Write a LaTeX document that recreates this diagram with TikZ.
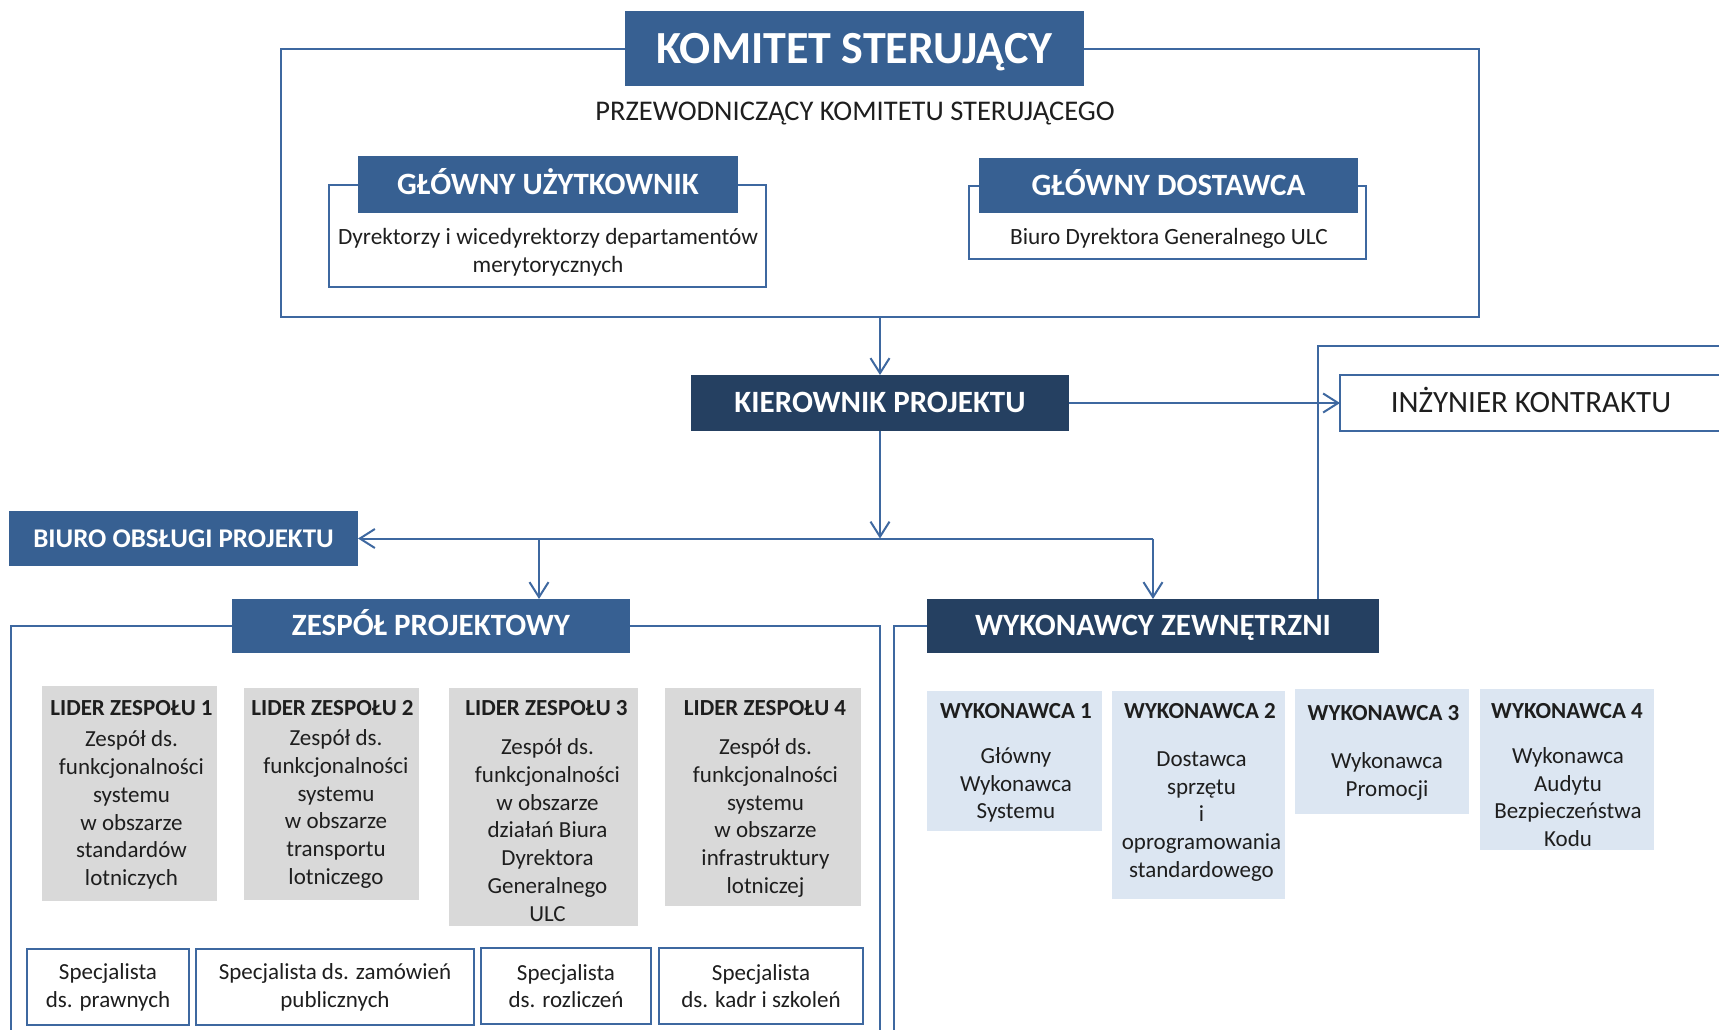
\documentclass[tikz,border=0pt]{standalone}
\usepackage{fontspec}
\setmainfont{Carlito}
\usetikzlibrary{arrows.meta}
\definecolor{midblue}{HTML}{376092}
\definecolor{navy}{HTML}{254061}
\definecolor{linecol}{HTML}{3E68A0}
\definecolor{grayfill}{HTML}{D9D9D9}
\definecolor{lightblue}{HTML}{DCE6F2}
\definecolor{txt}{HTML}{1E1E1E}
\begin{document}
\begin{tikzpicture}[x=1pt,y=-1pt,
 every node/.style={inner sep=0pt, outer sep=0pt},
 bluehdr/.style={fill=midblue, text=white, font=\bfseries\fontsize{31}{37}\selectfont, text height=19.8pt, text depth=0pt},
 navyhdr/.style={fill=navy, text=white, font=\bfseries\fontsize{31}{37}\selectfont, text height=19.8pt, text depth=0pt},
 frameline/.style={draw=linecol, line width=2pt},
 arr/.style={draw=linecol, line width=2pt, -{Straight Barb[length=15pt,width=19pt]}},
 whitebox/.style={draw=linecol, line width=2.5pt, fill=white},
 leaderbox/.style={fill=grayfill},
 wykbox/.style={fill=lightblue},
 smalltxt/.style={text=txt, font=\fontsize{23}{27.8}\selectfont, align=center},
 smallbold/.style={text=txt, font=\bfseries\fontsize{23}{27.8}\selectfont},
]
\useasboundingbox (0,0) rectangle (1719,1029);

% ---- steering committee ----
\node[bluehdr, font=\bfseries\fontsize{46}{55}\selectfont, text height=29.4pt, minimum width=459pt, minimum height=75pt] (kom) at (854.5,48.5) {KOMITET STERUJĄCY};
\node[text=txt, font=\fontsize{28.5}{34}\selectfont] (przew) at (855,114) {PRZEWODNICZĄCY KOMITETU STERUJĄCEGO};
\coordinate (kbot) at (880,317);
\draw[frameline] (kom.west) -- (281,48.5) -- (281,317) -- (1479,317) -- (1479,48.5) -- (kom.east);

\node[bluehdr, minimum width=380pt, minimum height=57pt] (gluh) at (548,184.5) {GŁÓWNY UŻYTKOWNIK};
\draw[frameline] (gluh.west) -- (329,184.5) -- (329,287) -- (766,287) -- (766,184.5) -- (gluh.east);
\node[smalltxt, font=\fontsize{23.3}{27.8}\selectfont] (glut) at (548,252) {Dyrektorzy i wicedyrektorzy departamentów\\merytorycznych};

\node[bluehdr, minimum width=379pt, minimum height=55pt] (gldh) at (1168.5,185.5) {GŁÓWNY DOSTAWCA};
\draw[frameline] (gldh.west) -- (969,185.5) -- (969,259) -- (1366,259) -- (1366,185.5) -- (gldh.east);
\node[smalltxt, font=\fontsize{23.3}{27.8}\selectfont] (gldt) at (1169,238) {Biuro Dyrektora Generalnego ULC};

% ---- project manager ----
\node[navyhdr, minimum width=378pt, minimum height=56pt] (kier) at (880,403) {KIEROWNIK PROJEKTU};
\node[whitebox, minimum width=382pt, minimum height=56pt, text=txt, font=\fontsize{31}{37}\selectfont, text height=19.8pt, text depth=0pt] (inz) at (1531,403) {INŻYNIER KONTRAKTU};
\draw[arr] (kbot) -- (kier.north);
\draw[arr] (kier.east) -- (inz.west);

\node[bluehdr, font=\bfseries\fontsize{27}{32}\selectfont, text height=17.3pt, minimum width=349pt, minimum height=55pt] (biuro) at (183.5,538.5) {BIURO OBSŁUGI PROJEKTU};
\node[bluehdr, minimum width=398pt, minimum height=54pt] (zp) at (431,626) {ZESPÓŁ PROJEKTOWY};
\node[navyhdr, minimum width=452pt, minimum height=54pt] (wz) at (1153,626) {WYKONAWCY ZEWNĘTRZNI};

\coordinate (j) at (880,538.5);
\coordinate (jl) at (539,538.5);
\coordinate (jr) at (1153,538.5);
\draw[arr] (kier.south) -- (j);
\draw[arr] (jr) -- (biuro.east);
\draw[arr] (jl) -- (jl |- zp.north);
\draw[arr] (jr) -- (wz.north);

\coordinate (wztop) at (1318,599);
\coordinate (inzline) at (1725,346);
\draw[frameline] (wztop) |- (inzline);

% frames of the lower groups
\draw[frameline] (zp.west) -- (11,626) -- (11,1040);
\draw[frameline] (zp.east) -- (880,626) -- (880,1040);
\draw[frameline] (wz.west) -- (894,626) -- (894,1040);

% ---- team leaders ----
\node[leaderbox, minimum width=175pt, minimum height=215pt] (l1) at (129.5,793.5) {};
\node[smallbold] (l1t) at (131.5,708) {LIDER ZESPOŁU 1};
\node[smalltxt] (l1b) at (131.5,810) {Zespół ds.\\funkcjonalności\\systemu\\w obszarze\\standardów\\lotniczych};

\node[leaderbox, minimum width=175pt, minimum height=212pt] (l2) at (331.5,794) {};
\node[smallbold] (l2t) at (332.5,708) {LIDER ZESPOŁU 2};
\node[smalltxt] (l2b) at (336,809) {Zespół ds.\\funkcjonalności\\systemu\\w obszarze\\transportu\\lotniczego};

\node[leaderbox, minimum width=189pt, minimum height=238pt] (l3) at (543.5,807) {};
\node[smallbold] (l3t) at (546.5,708) {LIDER ZESPOŁU 3};
\node[smalltxt] (l3b) at (547.5,830) {Zespół ds.\\funkcjonalności\\w obszarze\\działań Biura\\Dyrektora\\Generalnego\\ULC};

\node[leaderbox, minimum width=196pt, minimum height=218pt] (l4) at (763,797) {};
\node[smallbold] (l4t) at (765,708) {LIDER ZESPOŁU 4};
\node[smalltxt] (l4b) at (765.5,818) {Zespół ds.\\funkcjonalności\\systemu\\w obszarze\\infrastruktury\\lotniczej};

% ---- specialists ----
\node[whitebox, smalltxt, minimum width=162pt, minimum height=76pt] (s1) at (108,987) {Specjalista\\ds. prawnych};
\node[whitebox, smalltxt, minimum width=278pt, minimum height=76pt] (s2) at (335,987) {Specjalista ds. zamówień\\publicznych};
\node[whitebox, smalltxt, minimum width=170pt, minimum height=76pt] (s3) at (566,986) {Specjalista\\ds. rozliczeń};
\node[whitebox, smalltxt, minimum width=204pt, minimum height=76pt] (s4) at (761,986) {Specjalista\\ds. kadr i szkoleń};

% ---- contractors ----
\node[wykbox, minimum width=175pt, minimum height=140pt] (w1) at (1014.5,761) {};
\node[smallbold] (w1t) at (1016,711) {WYKONAWCA 1};
\node[smalltxt] (w1b) at (1016,785) {Główny\\Wykonawca\\Systemu};

\node[wykbox, minimum width=173pt, minimum height=208pt] (w2) at (1198.5,795) {};
\node[smallbold] (w2t) at (1200,711) {WYKONAWCA 2};
\node[smalltxt] (w2b) at (1201.5,816.5) {Dostawca\\sprzętu\\i\\oprogramowania\\standardowego};

\node[wykbox, minimum width=174pt, minimum height=125pt] (w3) at (1382,751.5) {};
\node[smallbold] (w3t) at (1383.5,713) {WYKONAWCA 3};
\node[smalltxt] (w3b) at (1387,776.5) {Wykonawca\\Promocji};

\node[wykbox, minimum width=174pt, minimum height=161pt] (w4) at (1567,769.5) {};
\node[smallbold] (w4t) at (1567,711) {WYKONAWCA 4};
\node[smalltxt] (w4b) at (1568,797) {Wykonawca\\Audytu\\Bezpieczeństwa\\Kodu};
\end{tikzpicture}
\end{document}
